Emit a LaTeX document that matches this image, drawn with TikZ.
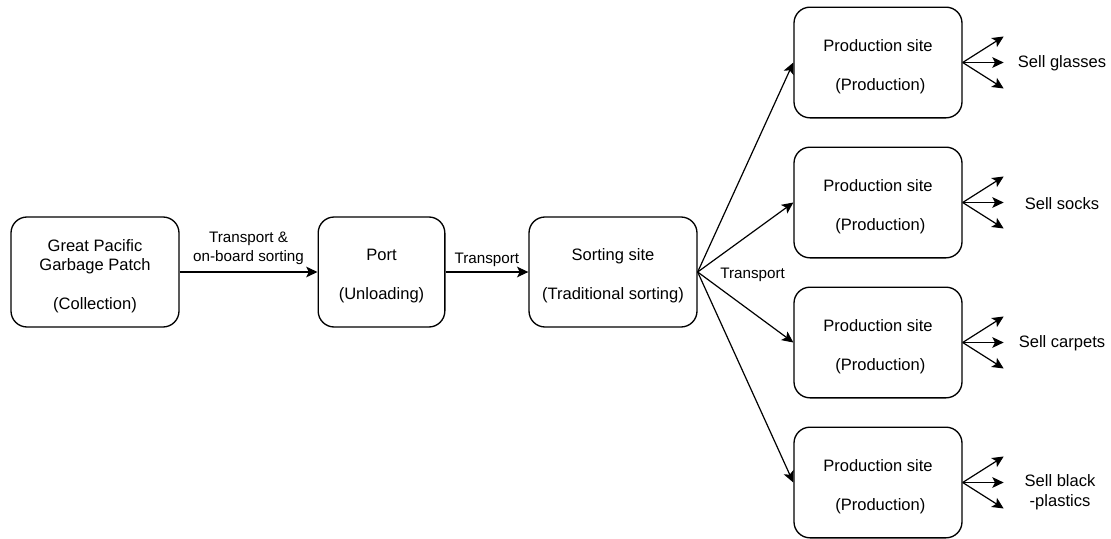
\documentclass[tikz,border=0pt]{standalone}
\usepackage{fontspec}
\setmainfont{Liberation Sans}
\usetikzlibrary{positioning,arrows.meta}

\newcommand{\sitegap}{\rule{0pt}{15pt}}

\tikzset{
  site/.style={draw, line width=1pt, rounded corners=12pt, minimum width=126pt,
    minimum height=82.5pt, align=center, font=\fontsize{12.4}{14.6}\selectfont},
  flow/.style={-{Stealth[length=8.5pt,width=8pt,inset=2pt]}, line width=0.9pt},
  lbl/.style={font=\fontsize{11.4}{14.25}\selectfont, align=center},
  sell/.style={font=\fontsize{12.4}{14.6}\selectfont, align=center},
}

\begin{document}
\begin{tikzpicture}[x=0.75pt,y=-0.75pt]
\useasboundingbox (0,0) rectangle (1111,539);

% Collection, unloading and sorting
\node[site] (gpgp) at (95,272) {\sitegap Great Pacific\\Garbage Patch\\[14.6pt](Collection)};
\node[site, minimum width=95pt] (port) at (381.5,272) {\sitegap Port\\[14.6pt](Unloading)};
\node[site] (sort) at (613,272) {\sitegap Sorting site\\[14.6pt](Traditional sorting)};

% Production sites
\node[site, minimum height=83pt] (p1) at (878,62.5) {\sitegap Production site\\[14.6pt]\ (Production)};
\node[site, minimum height=83pt] (p2) at (878,202.5) {\sitegap Production site\\[14.6pt]\ (Production)};
\node[site, minimum height=83pt] (p3) at (878,342.5) {\sitegap Production site\\[14.6pt]\ (Production)};
\node[site, minimum height=83pt] (p4) at (878,482.5) {\sitegap Production site\\[14.6pt]\ (Production)};

% Sales
\node[sell] (s1) at (1062,63.5) {Sell glasses};
\node[sell] (s2) at (1062,203.5) {Sell socks};
\node[sell] (s3) at (1062,343.5) {Sell carpets};
\node[sell] (s4) at (1060,492) {Sell black\\-plastics};

% Transport arrows
\draw[flow] (gpgp) -- (port) node[lbl, midway, above, yshift=2pt] {Transport \&\\on-board sorting};
\draw[flow] (port) -- (sort) node[lbl, midway, above] {Transport};
\foreach \p in {p1,p2,p3,p4}
  \draw[flow] (sort.east) -- (\p.west);
\node[lbl, right=13.5pt of sort.east, yshift=-2pt] (tr) {Transport};

% Selling arrows
\foreach \p in {p1,p2,p3,p4}{
  \draw[flow] (\p.east) -- ++(41,-26);
  \draw[flow] (\p.east) -- ++(41,0);
  \draw[flow] (\p.east) -- ++(41,26);
}

\end{tikzpicture}
\end{document}
